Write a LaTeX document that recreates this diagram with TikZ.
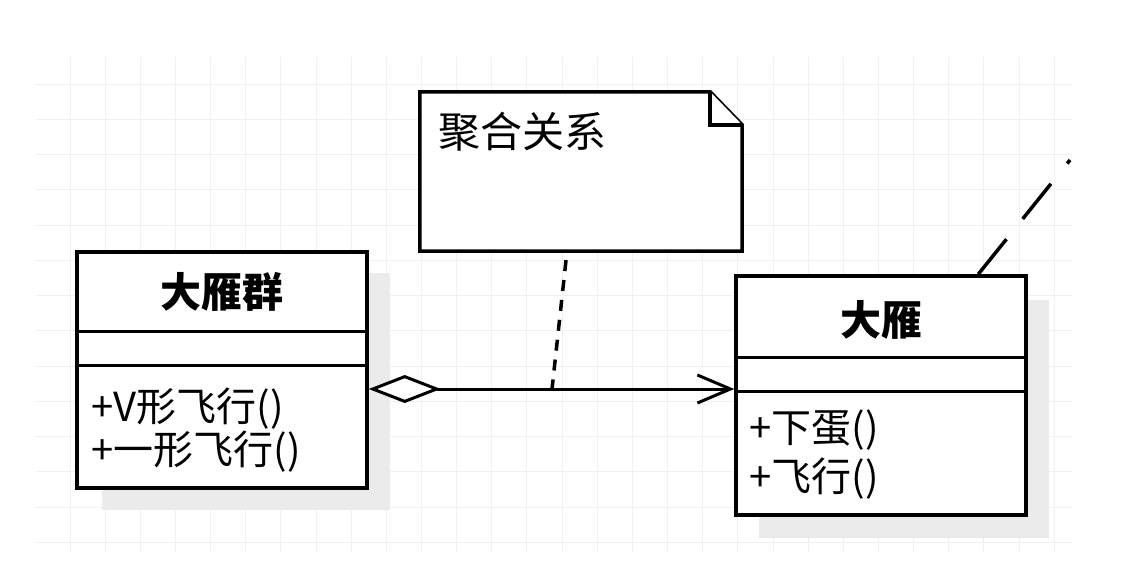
\documentclass[tikz,border=0pt]{standalone}
\usepackage{fontspec}
\setmainfont{Noto Sans CJK SC}
\usetikzlibrary{arrows.meta,calc}
\definecolor{gridc}{HTML}{F0F0F0}
\definecolor{shadowc}{HTML}{EBEBEB}
\begin{document}
\begin{tikzpicture}[x=1pt,y=-1pt,
  gridline/.style={draw=gridc, line width=1pt},
  shadowbox/.style={fill=shadowc, draw=none},
  classbox/.style={draw=black, line width=3.5pt, fill=white, rectangle, inner sep=0pt},
  divider/.style={draw=black, line width=3pt},
  titletext/.style={font=\fontsize{41}{48}\selectfont\bfseries, inner sep=0pt},
  methodtext/.style={font=\fontsize{40}{48}\selectfont, inner sep=0pt, anchor=west},
  notetext/.style={font=\fontsize{42}{48}\selectfont, inner sep=0pt, anchor=west},
  notebox/.style={draw=black, line width=3.5pt, fill=white, line join=miter},
  dashlink/.style={draw=black, line width=3.5pt, dash pattern=on 11pt off 9pt, dash phase=11pt},
  farlink/.style={draw=black, line width=3.5pt, dash pattern=on 45pt off 26pt},
  assoc/.style={draw=black, line width=3pt}
]
\useasboundingbox (0,0) rectangle (1147,570);
\fill[white] (0,0) rectangle (1147,570);
\foreach \i in {0,...,28} { \draw[gridline] ({70+35.15*\i},57) -- ({70+35.15*\i},552); }
\foreach \j in {0,...,13} { \draw[gridline] (36,{84+35.27*\j}) -- (1072,{84+35.27*\j}); }
% shadows
\fill[shadowbox] (102,273) rectangle (390,510);
\fill[shadowbox] (759,300) rectangle (1049,538);
% class 大雁群
\node[classbox, minimum width=290pt, minimum height=236pt] (flock) at (222,370) {};
\draw[divider] ($(flock.north west)+(0,81)$) -- ($(flock.north east)+(0,81)$);
\draw[divider] ($(flock.north west)+(0,115)$) -- ($(flock.north east)+(0,115)$);
\node[titletext] (flockname) at ($(flock.north)+(0,42)$) {大雁群};
\node[methodtext] (fm1) at ($(flock.west)+(16,39)$) {+V形飞行()};
\node[methodtext] (fm2) at ($(flock.west)+(16,82)$) {+一形飞行()};
% class 大雁
\node[classbox, minimum width=290pt, minimum height=239pt] (goose) at (881,395.5) {};
\draw[divider] ($(goose.north west)+(0,83)$) -- ($(goose.north east)+(0,83)$);
\draw[divider] ($(goose.north west)+(0,117)$) -- ($(goose.north east)+(0,117)$);
\node[titletext] (goosename) at ($(goose.north)+(0,46)$) {大雁};
\node[methodtext] (gm1) at ($(goose.west)+(15,34.5)$) {+下蛋()};
\node[methodtext] (gm2) at ($(goose.west)+(15,83.5)$) {+飞行()};
% aggregation
\coordinate (ly) at (0,389);
\draw[assoc, {Diamond[fill=white,length=72pt,width=28pt,line width=3pt]}-{Straight Barb[length=33pt,width=28pt,line width=3pt]}] (flock.east |- ly) -- (goose.west |- ly);
% note
\node[minimum width=322pt, minimum height=159pt, inner sep=0pt, draw=none] (note) at (581,171.5) {};
\draw[notebox] (note.north west) -- ($(note.north east)+(-32,0)$) -- ($(note.north east)+(0,33)$) -- (note.south east) -- (note.south west) -- cycle;
\draw[notebox] ($(note.north east)+(-32,0)$) -- ($(note.north east)+(-32,33)$) -- ($(note.north east)+(0,33)$);
\node[notetext] (notelabel) at ($(note.north west)+(18,40)$) {聚合关系};
\coordinate (nj) at (552,389);
\draw[dashlink] ($(note.south)+(-14,0)$) -- (nj);
% partial link at top right
\coordinate (tr) at (1070,160);
\draw[farlink] ($(goose.north west)+(244,0)$) -- (tr);
\end{tikzpicture}
\end{document}
